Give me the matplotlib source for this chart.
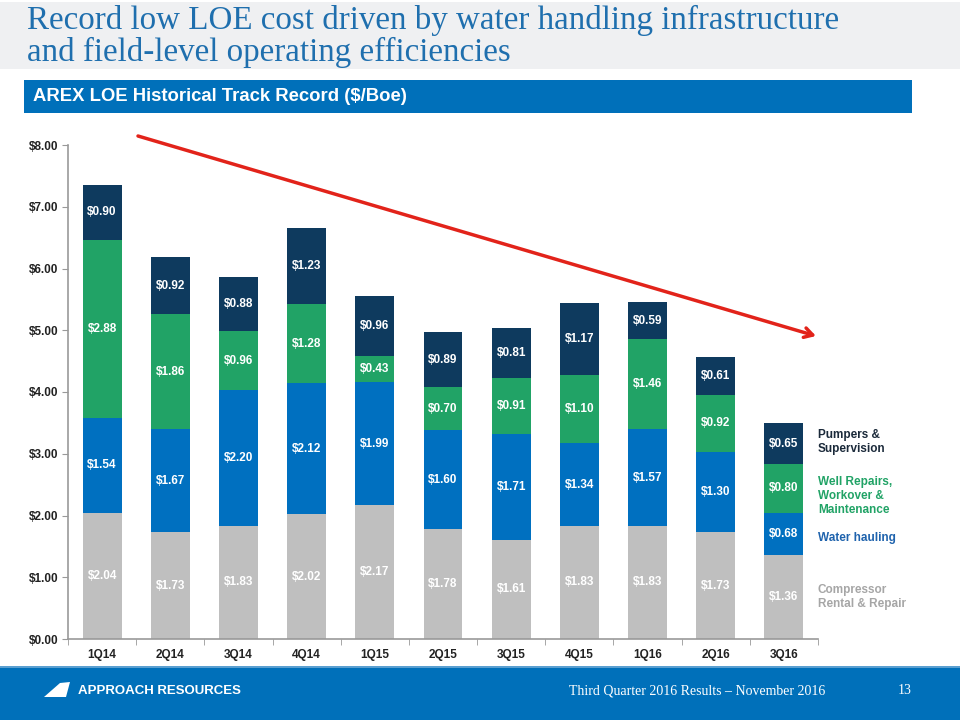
import numpy as np
import matplotlib
matplotlib.use("Agg")
import matplotlib.pyplot as plt
from matplotlib.patches import Rectangle, Polygon

# data ($/Boe)
quarters = ['1Q14', '2Q14', '3Q14', '4Q14', '1Q15', '2Q15', '3Q15', '4Q15', '1Q16', '2Q16', '3Q16']
compressor = [2.04, 1.73, 1.83, 2.02, 2.17, 1.78, 1.61, 1.83, 1.83, 1.73, 1.36]
water_hauling = [1.54, 1.67, 2.20, 2.12, 1.99, 1.60, 1.71, 1.34, 1.57, 1.30, 0.68]
well_repairs = [2.88, 1.86, 0.96, 1.28, 0.43, 0.70, 0.91, 1.10, 1.46, 0.92, 0.80]
pumpers = [0.90, 0.92, 0.88, 1.23, 0.96, 0.89, 0.81, 1.17, 0.59, 0.61, 0.65]

series = [compressor, water_hauling, well_repairs, pumpers]
colors = ['#bfbfbf', '#0070c0', '#21a366', '#0e3a5e']
legend_labels = ['Compressor\nRental & Repair', 'Water hauling',
                 'Well Repairs,\nWorkover &\nMaintenance', 'Pumpers &\nSupervision']
legend_colors = ['#a6a6a6', '#1f63ad', '#21a366', '#1b2a3a']

W, H = 960, 720
fig = plt.figure(figsize=(9.6, 7.2), dpi=100)
fig.patch.set_facecolor('white')

def fx(px):
    return px / W

def fy(py):
    return 1 - py / H

# title band
fig.patches.append(Rectangle((0, fy(69)), 1, fy(2) - fy(69), transform=fig.transFigure,
                             facecolor='#eff0f2', edgecolor='none', zorder=0))
fig.text(fx(27), fy(20), 'Record low LOE cost driven by water handling infrastructure',
         family='Liberation Serif', fontsize=23.8, color='#1f6fae', va='center', ha='left')
fig.text(fx(27), fy(52), 'and field-level operating efficiencies',
         family='Liberation Serif', fontsize=23.8, color='#1f6fae', va='center', ha='left')

# section banner
fig.patches.append(Rectangle((fx(24), fy(113)), fx(912) - fx(24), fy(80) - fy(113),
                             transform=fig.transFigure, facecolor='#0070ba', edgecolor='none'))
fig.text(fx(33), fy(96.5), 'AREX LOE Historical Track Record ($/Boe)', color='white',
         fontsize=13.3, fontweight='bold', family='Liberation Sans', va='center')

# footer
fig.patches.append(Rectangle((0, 0), 1, fy(667), transform=fig.transFigure,
                             facecolor='#0070ba', edgecolor='none'))
fig.patches.append(Rectangle((0, fy(668)), 1, fy(666) - fy(668), transform=fig.transFigure,
                             facecolor='#5a9fd0', edgecolor='none'))
logo = [(fx(44), fy(697)), (fx(60), fy(683)), (fx(70), fy(682)), (fx(66), fy(697))]
fig.patches.append(Polygon(logo, closed=True, transform=fig.transFigure,
                           facecolor='white', edgecolor='none'))
fig.text(fx(78), fy(691), 'APPROACH RESOURCES', color='white', fontsize=9.5,
         fontweight='bold', family='Liberation Sans', va='center')
fig.text(fx(825), fy(691), 'Third Quarter 2016 Results \u2013 November 2016', color='white',
         fontsize=10, family='Liberation Serif', va='center', ha='right')
fig.text(fx(912), fy(691), '13', color='white', fontsize=10, family='Liberation Serif',
         va='center', ha='right')

# chart
ax = fig.add_axes([fx(68), fy(639), fx(818) - fx(68), fy(145) - fy(639)])
x = np.arange(len(quarters))
bottom = np.zeros(len(quarters))
for vals, c in zip(series, colors):
    vals = np.array(vals)
    ax.bar(x, vals, 0.57, bottom=bottom, color=c, edgecolor='none', zorder=2)
    for xi, b, v in zip(x, bottom, vals):
        ax.text(xi, b + v / 2, '${:.2f}'.format(v), ha='center', va='center',
                color='white', fontsize=8.5, fontweight='bold', family='Liberation Sans')
    bottom += vals

ax.set_xlim(-0.5, len(quarters) - 0.5)
ax.set_ylim(0, 8)
ax.set_yticks(np.arange(0, 9, 1))
ax.set_yticklabels(['${:.2f}'.format(v) for v in range(9)], fontsize=8.5,
                   fontweight='bold', family='Liberation Sans', color='#222222')
ax.set_xticks(x)
ax.set_xticklabels(quarters, fontsize=8.5, fontweight='bold', family='Liberation Sans',
                   color='#222222')
ax.set_xticks(np.arange(-0.5, len(quarters), 1), minor=True)
ax.tick_params(axis='x', which='major', length=0, pad=7)
ax.tick_params(axis='x', which='minor', length=4, color='#999999', direction='out')
ax.tick_params(axis='y', length=4, color='#999999', direction='out', pad=3)
for s in ['top', 'right']:
    ax.spines[s].set_visible(False)
for s in ['left', 'bottom']:
    ax.spines[s].set_color('#999999')
    ax.spines[s].set_linewidth(1.2)
ax.set_facecolor('none')

# legend labels at right
legend_y = [597, 538, 496, 442]
for lab, c, yy in zip(legend_labels, legend_colors, legend_y):
    fig.text(fx(818), fy(yy), lab, color=c, fontsize=8.5, fontweight='bold',
             family='Liberation Sans', va='center', ha='left', linespacing=1.25)

# red trend arrow
ax.annotate('', xy=(fx(816), fy(336)), xytext=(fx(138), fy(136)),
            xycoords='figure fraction', textcoords='figure fraction',
            arrowprops=dict(arrowstyle='->,head_length=0.6,head_width=0.35',
                            color='#e2231a', lw=2.5, shrinkA=0, shrinkB=0),
            annotation_clip=False, zorder=5)

fig.savefig('out.png', dpi=100)
